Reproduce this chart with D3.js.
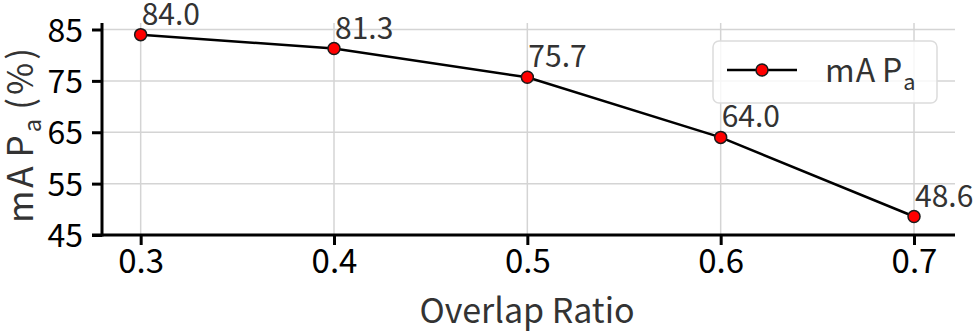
<!DOCTYPE html>
<html>
<head>
<meta charset="utf-8">
<script src="https://cdn.jsdelivr.net/npm/d3@7"></script>
<style>
  body { margin: 0; background: #fff; }
  svg { display: block; }
</style>
</head>
<body>
<script>
// overlap ratio vs mAP_a
var ratios = [0.3, 0.4, 0.5, 0.6, 0.7]
var mapA = [84.0, 81.3, 75.7, 64.0, 48.6]
var yTicks = [45, 55, 65, 75, 85]

var width = 976, height = 335
var margin = { left: 102, right: 21, top: 23, bottom: 100 }
var font = '"Noto Sans CJK SC"'

var svg = d3.select('body').append('svg')
    .attr('width', width)
    .attr('height', height)

var x = d3.scaleLinear()
    .domain([0.28, 0.7212])
    .range([margin.left, width - margin.right])

var y = d3.scaleLinear()
    .domain([45, 85])
    .range([235, 29.5])

var yTop = 23

// grid
svg.append('g').selectAll('line.h')
    .data(yTicks)
    .enter().append('line')
    .attr('x1', margin.left).attr('x2', width - margin.right)
    .attr('y1', function (d) { return y(d) }).attr('y2', function (d) { return y(d) })
    .attr('stroke', '#d4d4d4').attr('stroke-width', 1.5)

svg.append('g').selectAll('line.v')
    .data(ratios)
    .enter().append('line')
    .attr('x1', function (d) { return x(d) }).attr('x2', function (d) { return x(d) })
    .attr('y1', yTop).attr('y2', 235)
    .attr('stroke', '#d4d4d4').attr('stroke-width', 1.5)

// axes
var xAxis = svg.append('g')
    .attr('transform', 'translate(0,235)')
    .call(d3.axisBottom(x).tickValues(ratios).tickFormat(d3.format('.1f')).tickSize(10).tickPadding(8))
xAxis.select('.domain').attr('d', 'M' + (margin.left - 10) + ',0H' + (width - margin.right))

var yAxis = svg.append('g')
    .attr('transform', 'translate(' + margin.left + ',0)')
    .call(d3.axisLeft(y).tickValues(yTicks).tickSize(10).tickPadding(9))
yAxis.select('.domain').attr('d', 'M0,' + yTop + 'V236.5')

svg.selectAll('.domain').attr('stroke', '#000').attr('stroke-width', 3)
svg.selectAll('.tick line').attr('stroke', '#000').attr('stroke-width', 3)
xAxis.selectAll('.tick text')
    .attr('fill', '#000')
    .attr('dy', '0.62em')
    .style('font-family', font)
    .style('font-size', '33px')
yAxis.selectAll('.tick text')
    .attr('fill', '#000')
    .attr('dy', '0.36em')
    .style('font-family', font)
    .style('font-size', '32px')

// line + points
var pts = ratios.map(function (r, i) { return [r, mapA[i]] })
svg.append('path')
    .datum(pts)
    .attr('fill', 'none')
    .attr('stroke', '#000')
    .attr('stroke-width', 2.5)
    .attr('d', d3.line().x(function (d) { return x(d[0]) }).y(function (d) { return y(d[1]) }))

svg.append('g').selectAll('circle')
    .data(pts)
    .enter().append('circle')
    .attr('cx', function (d) { return x(d[0]) })
    .attr('cy', function (d) { return y(d[1]) })
    .attr('r', 6)
    .attr('fill', '#ff0000')
    .attr('stroke', '#1a1a1a')
    .attr('stroke-width', 1.5)

svg.append('g').selectAll('text')
    .data(pts)
    .enter().append('text')
    .attr('x', function (d) { return x(d[0]) + 1 })
    .attr('y', function (d) { return y(d[1]) - 10 })
    .attr('fill', '#333')
    .style('font-family', font)
    .style('font-size', '30px')
    .text(function (d) { return d[1].toFixed(1) })

// labels
svg.append('text')
    .attr('x', 527)
    .attr('y', 323)
    .attr('text-anchor', 'middle')
    .attr('fill', '#333')
    .style('font-family', font)
    .style('font-size', '34px')
    .text('Overlap Ratio')

function mapLabel(sel, suffix) {
    sel.append('tspan').text('mA')
    sel.append('tspan').attr('dx', 6).text('P')
    sel.append('tspan').attr('dy', 8).style('font-size', '0.68em').text('a')
    if (suffix) sel.append('tspan').attr('dy', -8).attr('dx', 6).text(suffix)
}

var yl = svg.append('text')
    .attr('transform', 'translate(33,134) rotate(-90)')
    .attr('text-anchor', 'middle')
    .attr('fill', '#333')
    .style('font-family', font)
    .style('font-size', '35px')
    .style('letter-spacing', '3px')
mapLabel(yl, '(%)')

// legend
var lg = svg.append('g')
lg.append('rect')
    .attr('x', 713).attr('y', 41)
    .attr('width', 224).attr('height', 62)
    .attr('rx', 6)
    .attr('fill', 'rgba(255,255,255,0.8)')
    .attr('stroke', '#dcdcdc')
    .attr('stroke-width', 1.5)
lg.append('line')
    .attr('x1', 727).attr('x2', 797)
    .attr('y1', 70).attr('y2', 70)
    .attr('stroke', '#000').attr('stroke-width', 2.5)
lg.append('circle')
    .attr('cx', 762).attr('cy', 70).attr('r', 6)
    .attr('fill', '#ff0000').attr('stroke', '#1a1a1a').attr('stroke-width', 1.5)
var lt = lg.append('text')
    .attr('x', 825).attr('y', 82)
    .attr('fill', '#333')
    .style('font-family', font)
    .style('font-size', '32px')
    .style('letter-spacing', '1px')
mapLabel(lt)
</script>
</body>
</html>
